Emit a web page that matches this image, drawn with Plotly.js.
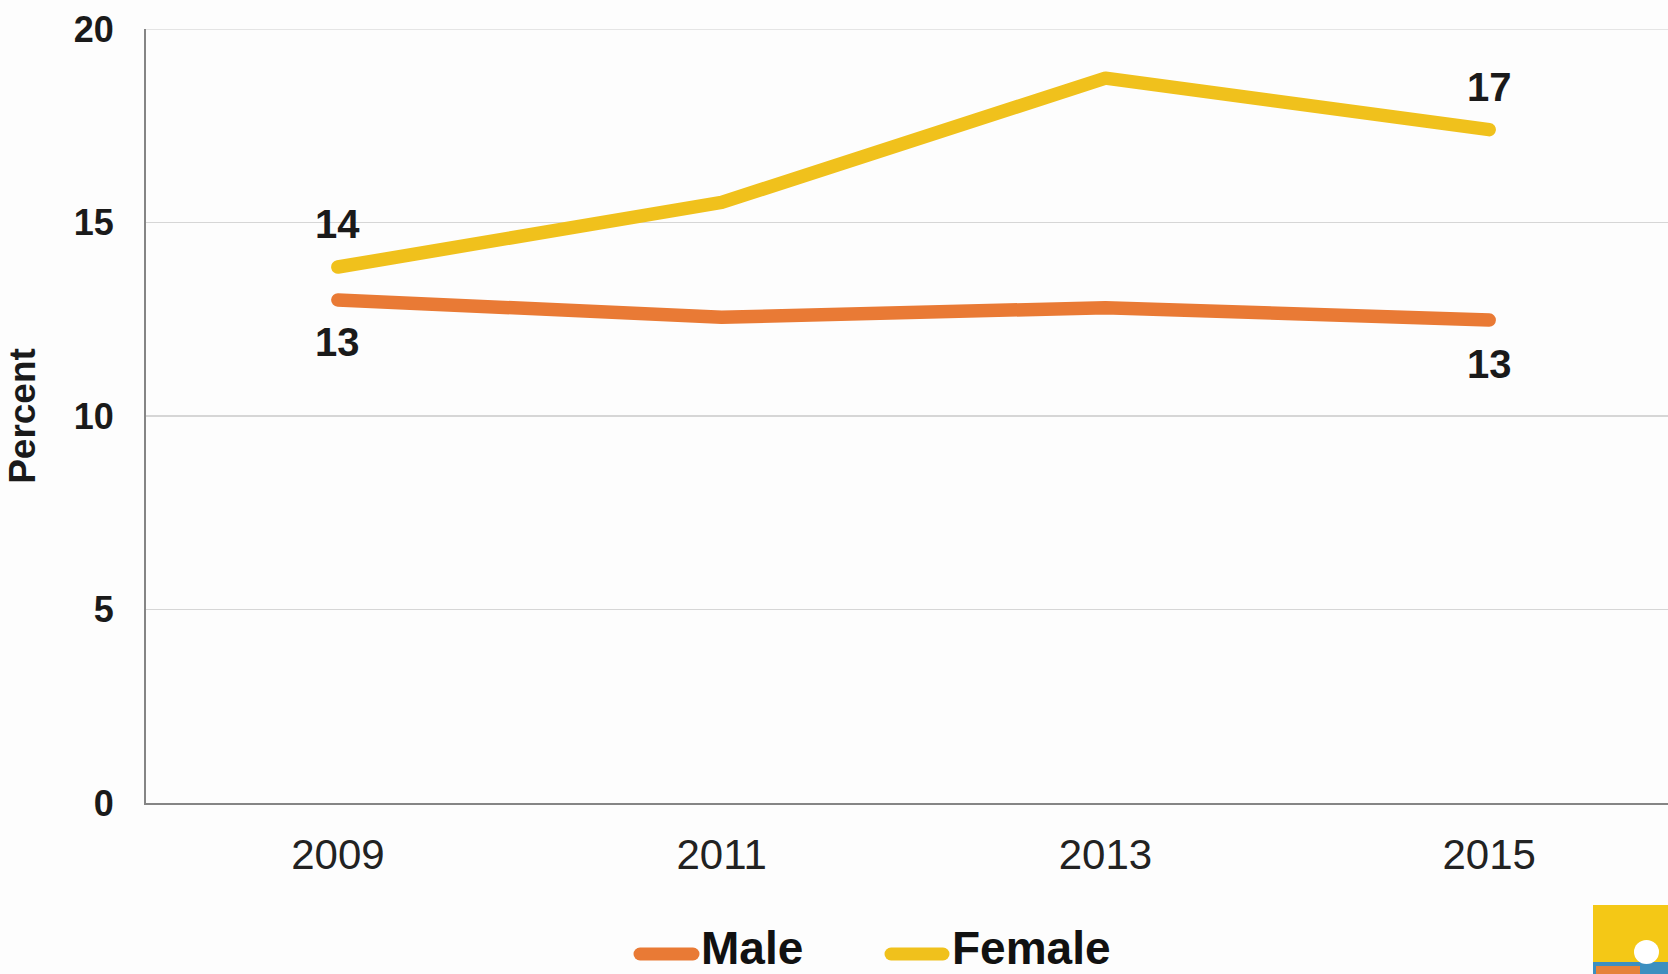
<!DOCTYPE html>
<html>
<head>
<meta charset="utf-8">
<script src="https://cdn.plot.ly/plotly-3.0.1.min.js"></script>
<style>
  html, body { margin: 0; padding: 0; background: #fdfdfd; }
  #chart { width: 1668px; height: 974px; }
  .js-line { stroke-linecap: round !important; stroke-linejoin: round !important; }
  .shapelayer path { stroke-linecap: round !important; }
</style>
</head>
<body>
<div id="chart"></div>
<script>
// ---- data ----
const years = ['2009', '2011', '2013', '2015'];
const maleValues = [13.0, 12.55, 12.8, 12.48];
const femaleValues = [13.85, 15.52, 18.73, 17.4];
const maleLabels = ['13', '', '', '13'];
const femaleLabels = ['14', '', '', '17'];
const seriesNames = ['Male', 'Female'];
const yTicks = [0, 5, 10, 15, 20];

// ---- style ----
const W = 1668, H = 974;
const M = { l: 146, r: 0, t: 29, b: 171 };
const maleColor = '#E97A35';
const femaleColor = '#F0C11C';
const FONT = 'Liberation Sans, Arial, sans-serif';

const plotW = W - M.l - M.r, plotH = H - M.t - M.b;
const px = x => (x - M.l) / plotW;
const py = y => (H - M.b - y) / plotH;

const traces = [
  { x: years, y: maleValues, name: seriesNames[0], type: 'scatter', mode: 'lines',
    line: { color: maleColor, width: 13.5 }, hoverinfo: 'x+y' },
  { x: years, y: femaleValues, name: seriesNames[1], type: 'scatter', mode: 'lines',
    line: { color: femaleColor, width: 13.5 }, hoverinfo: 'x+y' }
];

const annotations = [];
years.forEach((yr, i) => {
  if (femaleLabels[i]) annotations.push({ x: i, y: femaleValues[i], xref: 'x', yref: 'y',
    text: femaleLabels[i], showarrow: false, yshift: 43,
    font: { family: FONT, size: 40, color: '#1a1a1a', weight: 'bold' } });
  if (maleLabels[i]) annotations.push({ x: i, y: maleValues[i], xref: 'x', yref: 'y',
    text: maleLabels[i], showarrow: false, yshift: (i === 0 ? -42 : -44),
    font: { family: FONT, size: 40, color: '#1a1a1a', weight: 'bold' } });
});

// custom legend
const legendY = py(954);
const legendItems = [
  { name: seriesNames[0], color: maleColor, x0: 640, x1: 693, tx: 699 },
  { name: seriesNames[1], color: femaleColor, x0: 891, x1: 943, tx: 950 }
];
const shapes = [
  { type: 'line', xref: 'paper', yref: 'y', x0: 0, x1: 1, y0: 20, y1: 20,
    line: { color: '#dcdcdc', width: 1.5 }, layer: 'below' }
];
legendItems.forEach(it => {
  shapes.push({ type: 'line', xref: 'paper', yref: 'paper', x0: px(it.x0), x1: px(it.x1),
    y0: legendY, y1: legendY, line: { color: it.color, width: 13 } });
  annotations.push({ xref: 'paper', yref: 'paper', x: px(it.tx), y: py(948), xanchor: 'left',
    yanchor: 'middle', text: it.name, showarrow: false,
    font: { family: FONT, size: 46, color: '#111', weight: 'bold' } });
});

// logo approximation (bottom-right)
shapes.push({ type: 'rect', xref: 'paper', yref: 'paper', x0: px(1593), x1: px(1668),
  y0: py(962), y1: py(905), fillcolor: '#F4C816', line: { width: 0 } });
shapes.push({ type: 'rect', xref: 'paper', yref: 'paper', x0: px(1593), x1: px(1668),
  y0: py(974), y1: py(962), fillcolor: '#3C8FC0', line: { width: 0 } });
shapes.push({ type: 'rect', xref: 'paper', yref: 'paper', x0: px(1596), x1: px(1640),
  y0: py(974), y1: py(966), fillcolor: '#E5823A', line: { width: 0 } });
shapes.push({ type: 'circle', xref: 'paper', yref: 'paper', x0: px(1634), x1: px(1659),
  y0: py(964), y1: py(940), fillcolor: '#FFFFFF', line: { width: 0 } });

const layout = {
  width: W, height: H,
  margin: M,
  paper_bgcolor: '#fdfdfd',
  plot_bgcolor: '#fdfdfd',
  showlegend: false,
  xaxis: {
    type: 'category',
    range: [-0.5, 3.466],
    showgrid: false,
    zeroline: false,
    showline: true, linecolor: '#858585', linewidth: 2,
    ticks: '',
    ticklabelstandoff: 14,
    tickfont: { family: FONT, size: 42, color: '#222' },
    fixedrange: true
  },
  yaxis: {
    range: [0, 20],
    tickvals: yTicks,
    ticktext: yTicks.map(String),
    showgrid: true, gridcolor: '#d6d6d6', gridwidth: 1.5,
    zeroline: false,
    showline: true, linecolor: '#858585', linewidth: 2,
    ticks: '',
    ticklabelstandoff: 23,
    tickfont: { family: FONT, size: 36, color: '#1a1a1a', weight: 'bold' },
    title: { text: 'Percent', standoff: 27,
      font: { family: FONT, size: 37, color: '#1a1a1a', weight: 'bold' } },
    fixedrange: true
  },
  annotations: annotations,
  shapes: shapes
};

Plotly.newPlot('chart', traces, layout, { displayModeBar: false, staticPlot: true });
</script>
</body>
</html>
